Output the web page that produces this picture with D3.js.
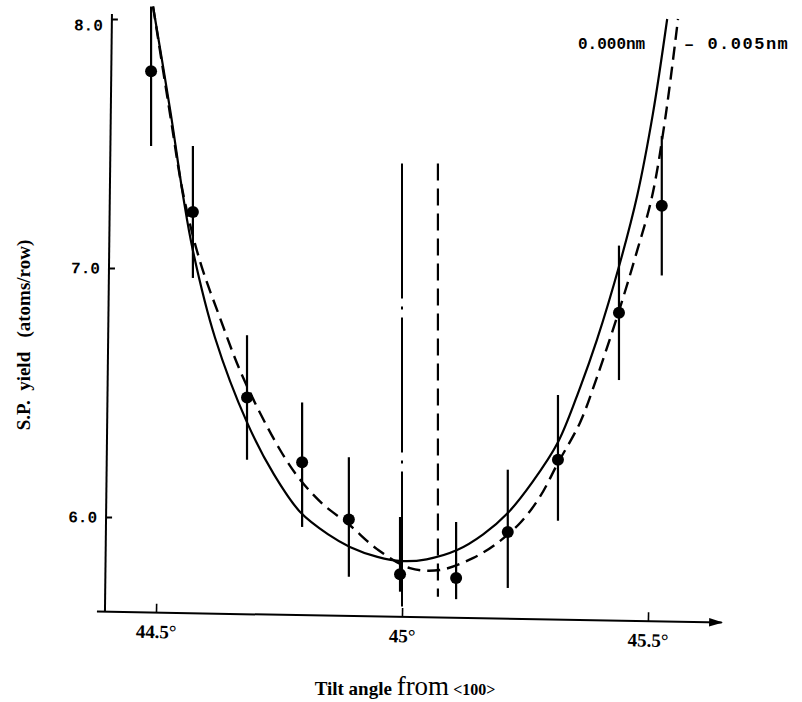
<!DOCTYPE html>
<html><head><meta charset="utf-8">
<script src="https://cdn.jsdelivr.net/npm/d3@7"></script>
<style>body{margin:0;background:#fff} svg{display:block}</style>
</head><body><div id="chart"></div>
<script>
// ---- data ----
const xTickValues = [44.5, 45, 45.5];
const xTickLabels = ["44.5°", "45°", "45.5°"];
const yTickValues = [6.0, 7.0, 8.0];
const yTickLabels = ["6.0", "7.0", "8.0"];

const pointAngle = [44.49, 44.575, 44.685, 44.797, 44.892, 44.996, 45.11, 45.215, 45.317, 45.441, 45.528];
const pointYield = [7.79, 7.225, 6.48, 6.22, 5.99, 5.77, 5.755, 5.94, 6.23, 6.82, 7.25];
const errHigh    = [8.05, 7.49, 6.73, 6.46, 6.24, 6.00, 5.98, 6.19, 6.49, 7.09, 7.53];
const errLow     = [7.49, 6.96, 6.23, 5.96, 5.76, 5.70, 5.67, 5.715, 5.985, 6.55, 6.97];

// fitted curve for 0.000nm displacement (solid)
const solidAngle = [44.494, 44.53, 44.555, 44.575, 44.62, 44.685, 44.74, 44.793, 44.85, 44.894, 44.95, 45.0, 45.05, 45.112, 45.165, 45.215, 45.265, 45.317, 45.362, 45.396, 45.443, 45.478, 45.51, 45.539];
const solidYield = [8.05, 7.62, 7.29, 7.07, 6.72, 6.38, 6.17, 6.02, 5.93, 5.88, 5.84, 5.823, 5.83, 5.867, 5.93, 6.016, 6.14, 6.30, 6.52, 6.71, 7.02, 7.29, 7.62, 8.00];

// fitted curve for 0.005nm displacement (dashed)
const dashedAngle = [44.494, 44.53, 44.555, 44.589, 44.63, 44.677, 44.752, 44.793, 44.84, 44.892, 44.95, 45.016, 45.077, 45.144, 45.19, 45.24, 45.28, 45.317, 45.362, 45.396, 45.443, 45.475, 45.508, 45.535, 45.561];
const dashedYield = [8.05, 7.60, 7.30, 7.03, 6.80, 6.56, 6.27, 6.15, 6.05, 5.97, 5.87, 5.795, 5.787, 5.835, 5.89, 5.976, 6.08, 6.217, 6.38, 6.56, 6.84, 7.05, 7.285, 7.60, 8.00];

// minimum positions (vertical markers)
const minAngleSolid = 45.0;
const minAngleDashed = 45.073;
const markerTop = 7.42;
const markerBottomSolid = 5.61;
const markerBottomDashed = 5.68;

const curveLabels = ["0.000nm", "\u2013 0.005nm"];
const xTitleParts = ["Tilt angle ", "from", " <100>"];
const yTitle = "S.P.  yield   (atoms/row)";

// ---- drawing ----
const W = 802, H = 702;
const svg = d3.select("#chart").append("svg").attr("width", W).attr("height", H)
  .style("background", "#fff");

const x = d3.scaleLinear().domain([44.5, 45.5]).range([156, 648]);
const y = d3.scaleLinear().domain([6, 7]).range([517, 268]);

const xMin = 44.38, xMax = 45.65;
const yMin = 5.62, yMax = 8.02;

svg.append("defs").append("marker")
  .attr("id", "arrow").attr("viewBox", "0 0 10 10").attr("refX", 9).attr("refY", 5)
  .attr("markerWidth", 7).attr("markerHeight", 7).attr("orient", "auto")
  .append("path").attr("d", "M0,2 L10,5 L0,8 Z").attr("fill", "#000");

// X axis (slightly tilted as in the original)
const x0 = x(xMin), axisY = y(yMin);
const gx = svg.append("g")
  .attr("transform", `translate(0,${axisY}) rotate(1,${x0},0)`);
gx.call(d3.axisBottom(x).tickValues(xTickValues).tickSize(-9).tickSizeOuter(0).tickPadding(12)
  .tickFormat((d, i) => xTickLabels[i]));
gx.select(".domain").remove();
gx.selectAll(".tick line").attr("stroke", "#000").attr("stroke-width", 1.6);
gx.selectAll(".tick text").attr("fill", "#000")
  .style("font-family", "'Liberation Serif', 'DejaVu Serif', serif")
  .style("font-weight", "bold").style("font-size", "19px");
gx.append("line").attr("x1", x(xMin)).attr("x2", x(xMax)).attr("y1", 0).attr("y2", 0)
  .attr("stroke", "#000").attr("stroke-width", 2).attr("marker-end", "url(#arrow)");

// Y axis (slightly tilted)
const gy = svg.append("g")
  .attr("transform", `translate(${x0 + 8},0) rotate(0.67,0,${axisY})`);
gy.call(d3.axisLeft(y).tickValues(yTickValues).tickSize(-6).tickSizeOuter(0).tickPadding(9)
  .tickFormat((d, i) => yTickLabels[i]));
gy.select(".domain").remove();
gy.append("line").attr("x1", 0).attr("x2", 0).attr("y1", y(yMin)).attr("y2", y(yMax))
  .attr("stroke", "#000").attr("stroke-width", 2);
gy.selectAll(".tick line").attr("stroke", "#000").attr("stroke-width", 2);
gy.selectAll(".tick text").attr("fill", "#000")
  .style("font-family", "'Liberation Mono', 'DejaVu Sans Mono', monospace")
  .style("font-weight", "bold").style("font-size", "16px");
gy.selectAll(".tick").filter(d => d === 8).select("text").attr("dy", "0.7em");

// curves
const line = d3.line().x(d => x(d[0])).y(d => y(d[1])).curve(d3.curveCatmullRom.alpha(0.5));
svg.append("path").datum(d3.zip(solidAngle, solidYield)).attr("d", line)
  .attr("fill", "none").attr("stroke", "#000").attr("stroke-width", 2.2);
svg.append("path").datum(d3.zip(dashedAngle, dashedYield)).attr("d", line)
  .attr("fill", "none").attr("stroke", "#000").attr("stroke-width", 2.4)
  .attr("stroke-dasharray", "13,7");

// vertical markers of minima
svg.append("line").attr("x1", x(minAngleSolid)).attr("x2", x(minAngleSolid))
  .attr("y1", y(markerTop)).attr("y2", y(markerBottomSolid))
  .attr("stroke", "#000").attr("stroke-width", 2).attr("stroke-dasharray", "135,8,3,8");
svg.append("line").attr("x1", x(minAngleDashed)).attr("x2", x(minAngleDashed))
  .attr("y1", y(markerTop)).attr("y2", y(markerBottomDashed))
  .attr("stroke", "#000").attr("stroke-width", 2.2).attr("stroke-dasharray", "17,8");

// error bars and points
const pts = pointAngle.map((a, i) => ({a, v: pointYield[i], hi: errHigh[i], lo: errLow[i]}));
svg.append("g").selectAll("line").data(pts).join("line")
  .attr("x1", d => x(d.a)).attr("x2", d => x(d.a))
  .attr("y1", d => y(d.hi)).attr("y2", d => y(d.lo))
  .attr("stroke", "#000").attr("stroke-width", 2.2);
svg.append("g").selectAll("circle").data(pts).join("circle")
  .attr("cx", d => x(d.a)).attr("cy", d => y(d.v)).attr("r", 6).attr("fill", "#000");

// curve labels
svg.append("text").attr("x", 578).attr("y", 49).text(curveLabels[0])
  .style("font-family", "'Liberation Mono', monospace").style("font-size", "16px")
  .style("font-weight", "bold").attr("fill", "#000");
svg.append("text").attr("x", 684).attr("y", 49).text(curveLabels[1])
  .style("font-family", "'Liberation Mono', monospace").style("font-size", "17px")
  .style("font-weight", "bold").style("letter-spacing", "1.5px").attr("fill", "#000");

// axis titles
const xt = svg.append("text").attr("x", 405).attr("y", 695).attr("text-anchor", "middle")
  .attr("fill", "#000").style("font-family", "'Liberation Serif', 'DejaVu Serif', serif");
xt.append("tspan").text(xTitleParts[0]).style("font-size", "19px").style("font-weight", "bold");
xt.append("tspan").text(xTitleParts[1]).style("font-size", "27px");
xt.append("tspan").text(xTitleParts[2]).style("font-size", "16px").style("font-weight", "bold");

svg.append("text").attr("transform", "translate(30,335) rotate(-90)").attr("text-anchor", "middle")
  .attr("fill", "#000").style("white-space", "pre")
  .style("font-family", "'Liberation Serif', 'DejaVu Serif', serif")
  .style("font-weight", "bold").style("font-size", "19px").text(yTitle);
</script></body></html>
